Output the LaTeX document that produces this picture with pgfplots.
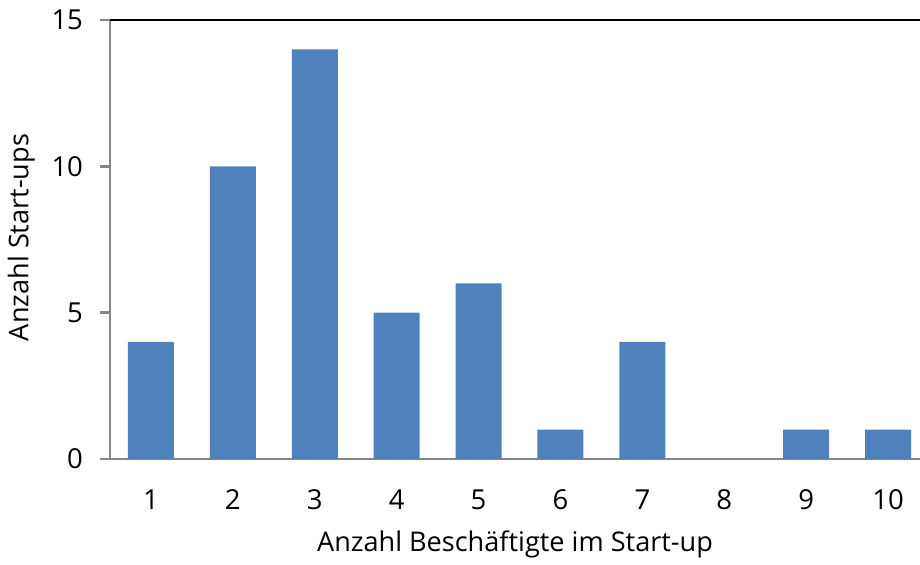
\documentclass[border=0pt]{standalone}
\usepackage{pgfplots}
\pgfplotsset{compat=1.18}
\usepackage{fontspec}
\setmainfont{Open Sans}
\definecolor{barblue}{HTML}{4F81BD}
\definecolor{axgray}{HTML}{868686}
\begin{document}
\begin{tikzpicture}
\useasboundingbox (0,0) rectangle (460bp,282.5bp);
\begin{axis}[
  at={(55bp,53bp)}, anchor=south west,
  scale only axis, width=405bp, height=219.5bp,
  xmin=0.5, xmax=10.39, ymin=0, ymax=15,
  axis lines*=left,
  axis line style={axgray, line width=1.2pt},
  x axis line style={-}, y axis line style={-},
  xtick={1,...,10}, ytick={0,5,10,15},
  xtick style={draw=none},
  ytick style={axgray, line width=1.2pt},
  tick align=outside, major tick length=5bp,
  /pgf/number format/assume math mode=true,
  tick label style={font=\fontsize{13.8}{15}\selectfont},
  xticklabel style={yshift=-7bp},
  yticklabel style={xshift=-5bp},
  xlabel={Anzahl Beschäftigte im Start-up},
  ylabel={Anzahl Start-ups},
  label style={font=\fontsize{13.6}{15}\selectfont},
  xlabel style={yshift=-3.5bp},
  ylabel style={yshift=1.5bp, xshift=1bp},
  ybar, bar width=23bp,
  clip=false,
]
\addplot[fill=barblue, draw=none] coordinates {
  (1,4) (2,10) (3,14) (4,5) (5,6) (6,1) (7,4) (8,0) (9,1) (10,1)
};
\draw[black, line width=1.2pt] (axis cs:0.5,15) -- (axis cs:10.39,15);
\end{axis}
\end{tikzpicture}
\end{document}
